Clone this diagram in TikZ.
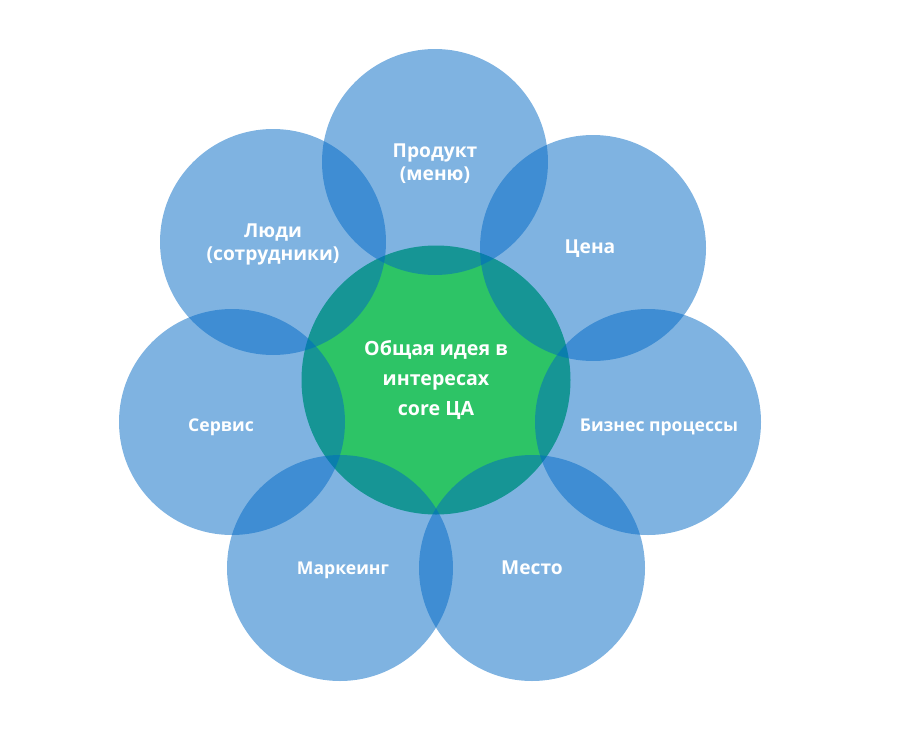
\documentclass[tikz,border=0pt]{standalone}
\usepackage{fontspec}
\setsansfont{Open Sans}
\usetikzlibrary{positioning}
\definecolor{petalblue}{HTML}{0068C4}
\definecolor{coregreen}{HTML}{2DC466}
\tikzset{
  mix/petal/.style={circle, fill=petalblue, fill opacity=0.5, draw=none, minimum size=113pt, inner sep=0pt},
  mix/core/.style={circle, fill=coregreen, draw=none, minimum size=134.5pt, inner sep=0pt},
  mix/label/.style={text=white, align=center, font=\sffamily\bfseries\fontsize{9.6}{11.5}\selectfont},
  mix/small/.style={text=white, align=center, font=\sffamily\bfseries\fontsize{8.8}{10.5}\selectfont},
  mix/title/.style={text=white, align=center, font=\sffamily\bfseries\fontsize{9.8}{15}\selectfont},
}
\begin{document}
\begin{tikzpicture}[x=0.5pt, y=-0.5pt]
  \useasboundingbox (0,0) rectangle (900,750);

  % Ядро
  \node[mix/core] (core) at (436,380) {};

  % Лепестки
  \node[mix/petal] (prod) at (435,162) {};
  \node[mix/petal] (price) at (593,248) {};
  \node[mix/petal] (proc) at (648,422) {};
  \node[mix/petal] (place) at (532,568) {};
  \node[mix/petal] (mark) at (340,568) {};
  \node[mix/petal] (serv) at (232,422) {};
  \node[mix/petal] (people) at (273,242) {};

  % Подписи
  \node[mix/label] (tprod) at (435,164) {Продукт\\(меню)};
  \node[mix/label] (tprice) at (590,249) {Цена};
  \node[mix/small] (tproc) at (659,427) {Бизнес процессы};
  \node[mix/label] (tplace) at (532,568) {Место};
  \node[mix/small] (tmark) at (343,570) {Маркеинг};
  \node[mix/small] (tserv) at (221,427) {Сервис};
  \node[mix/label] (tpeople) at (273,244) {Люди\\(сотрудники)};

  \node[mix/title] (tcore) at (core) {Общая идея в\\интересах\\core ЦА};

\end{tikzpicture}
\end{document}
